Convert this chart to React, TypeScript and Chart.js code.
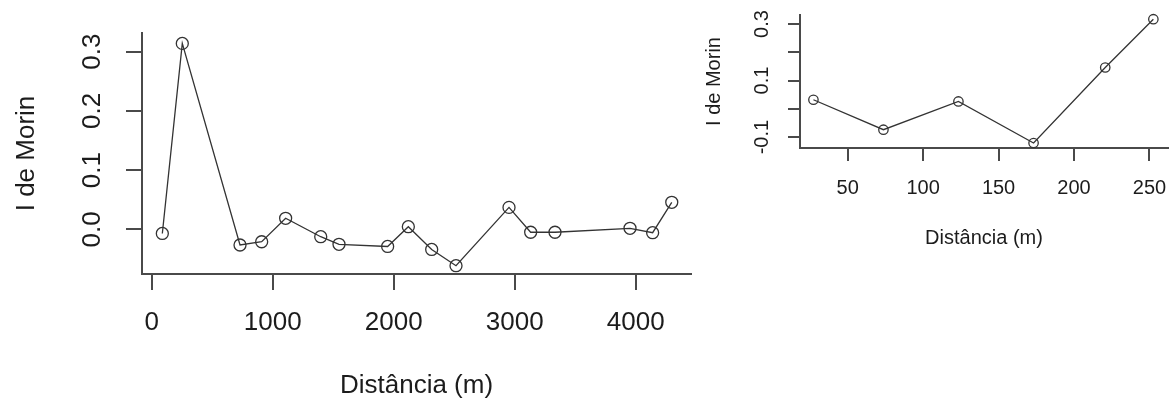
import React, { useEffect, useRef } from "react";
import { Chart, registerables } from "chart.js";

Chart.register(...registerables);

// ---- Data ----
// Left panel: full distance range
const leftDistance = [88, 253, 730, 909, 1107, 1397, 1548, 1950, 2121, 2314, 2515, 2953, 3132, 3333, 3953, 4140, 4298];
const leftMoran = [-0.007, 0.314, -0.0265, -0.021, 0.0186, -0.0125, -0.0253, -0.029, 0.0044, -0.034, -0.0615, 0.037, -0.005, -0.005, 0.0017, -0.0057, 0.0456];

// Right panel: short distances
const rightDistance = [27.3, 73.7, 123.4, 173.2, 220.7, 252.6];
const rightMoran = [0.032, -0.074, 0.026, -0.121, 0.146, 0.317];

// Tick values and labels
const leftXTicks = [0, 1000, 2000, 3000, 4000];
const leftYTicks = [0, 0.1, 0.2, 0.3];
const rightXTicks = [50, 100, 150, 200, 250];
const rightYTicks = [-0.1, 0, 0.1, 0.2, 0.3];
const rightYLabelled = [-0.1, 0.1, 0.3];

const xTitle = "Distância (m)";
const yTitle = "I de Morin";

const FONT_FAMILY = "'Liberation Sans', Arial, Helvetica, sans-serif";
const AXIS = "#4a4a4a";
const TEXT = "#1c1c1c";
const LINE = "#333333";

type Spec = {
  distance: number[];
  moran: number[];
  xTicks: number[];
  yTicks: number[];
  xMin: number; xMax: number;
  yMin: number; yMax: number;
  yLabel: (v: number) => string;
  fontSize: number;
  xTickLen: number; yTickLen: number;
  xTickPad: number; yTickPad: number;
  yScaleWidth: number; xScaleHeight: number;
  padding: { left: number; top: number; right: number; bottom: number };
  yTitlePad: number; xTitlePad: number;
  radius: number;
};

function buildConfig(s: Spec): any {
  const font = { family: FONT_FAMILY, size: s.fontSize };
  const zeroPad = (sc: any) => {
    sc.paddingLeft = 0; sc.paddingRight = 0; sc.paddingTop = 0; sc.paddingBottom = 0;
  };
  return {
    type: "line",
    data: {
      datasets: [
        {
          data: s.distance.map((d, i) => ({ x: d, y: s.moran[i] })),
          borderColor: LINE,
          borderWidth: 1.3,
          pointRadius: s.radius,
          pointHoverRadius: s.radius,
          pointBackgroundColor: "rgba(0,0,0,0)",
          pointBorderColor: LINE,
          pointBorderWidth: 1.3,
          tension: 0,
          fill: false,
          clip: false,
        },
      ],
    },
    options: {
      animation: false,
      responsive: false,
      devicePixelRatio: 1,
      events: [],
      layout: { padding: s.padding },
      plugins: { legend: { display: false }, tooltip: { enabled: false } },
      scales: {
        x: {
          type: "linear",
          position: "bottom",
          min: s.xMin,
          max: s.xMax,
          afterBuildTicks: (sc: any) => { sc.ticks = s.xTicks.map((v) => ({ value: v })); },
          ticks: {
            autoSkip: false,
            minRotation: 0,
            maxRotation: 0,
            padding: s.xTickPad,
            color: TEXT,
            font,
            callback: (v: number) => String(v),
          },
          grid: { display: true, drawOnChartArea: false, drawTicks: true, tickLength: s.xTickLen, color: AXIS, lineWidth: 2 },
          border: { display: true, color: AXIS, width: 2 },
          title: { display: true, text: xTitle, color: TEXT, font, padding: { top: 0, bottom: s.xTitlePad } },
          afterFit: (sc: any) => { sc.height = s.xScaleHeight; zeroPad(sc); },
        },
        y: {
          type: "linear",
          position: "left",
          min: s.yMin,
          max: s.yMax,
          afterBuildTicks: (sc: any) => { sc.ticks = s.yTicks.map((v) => ({ value: v })); },
          ticks: {
            autoSkip: false,
            minRotation: 90,
            maxRotation: 90,
            crossAlign: "center",
            padding: s.yTickPad,
            color: TEXT,
            font,
            callback: (v: number) => s.yLabel(v),
          },
          grid: { display: true, drawOnChartArea: false, drawTicks: true, tickLength: s.yTickLen, color: AXIS, lineWidth: 2 },
          border: { display: true, color: AXIS, width: 2 },
          title: { display: true, text: yTitle, color: TEXT, font, padding: { top: s.yTitlePad, bottom: 0 } },
          afterFit: (sc: any) => { sc.width = s.yScaleWidth; zeroPad(sc); },
        },
      },
    },
  };
}

const leftSpec: Spec = {
  distance: leftDistance,
  moran: leftMoran,
  xTicks: leftXTicks,
  yTicks: leftYTicks,
  xMin: -80, xMax: 4457,
  yMin: -0.0755, yMax: 0.3316,
  yLabel: (v) => v.toFixed(1),
  fontSize: 26,
  xTickLen: 16, yTickLen: 16,
  xTickPad: 17, yTickPad: 15,
  yScaleWidth: 142, xScaleHeight: 129,
  padding: { left: 0, top: 33, right: 9, bottom: 0 },
  yTitlePad: 11, xTitlePad: 2,
  radius: 6,
};

const rightSpec: Spec = {
  distance: rightDistance,
  moran: rightMoran,
  xTicks: rightXTicks,
  yTicks: rightYTicks,
  xMin: 18.4, xMax: 262.3,
  yMin: -0.1387, yMax: 0.3318,
  yLabel: (v) => (rightYLabelled.some((l) => Math.abs(l - v) < 1e-9) ? v.toFixed(1) : ""),
  fontSize: 20,
  xTickLen: 13, yTickLen: 12,
  xTickPad: 15, yTickPad: 8,
  yScaleWidth: 105, xScaleHeight: 105,
  padding: { left: 0, top: 15, right: 7, bottom: 150 },
  yTitlePad: 7, xTitlePad: 3,
  radius: 4.7,
};

function PanelChart(props: { spec: Spec; left: number; top: number; width: number; height: number }) {
  const ref = useRef<HTMLCanvasElement>(null);
  useEffect(() => {
    const chart = new Chart(ref.current as HTMLCanvasElement, buildConfig(props.spec));
    return () => chart.destroy();
  }, []);
  return (
    <canvas
      ref={ref}
      width={props.width}
      height={props.height}
      style={{ position: "absolute", left: props.left, top: props.top, width: props.width, height: props.height, display: "block" }}
    />
  );
}

export default function App() {
  return (
    <div style={{ position: "absolute", left: 0, top: 0, width: 1169, height: 403, overflow: "hidden", background: "#ffffff" }}>
      <PanelChart spec={leftSpec} left={0} top={0} width={700} height={403} />
      <PanelChart spec={rightSpec} left={695} top={0} width={480} height={403} />
    </div>
  );
}
